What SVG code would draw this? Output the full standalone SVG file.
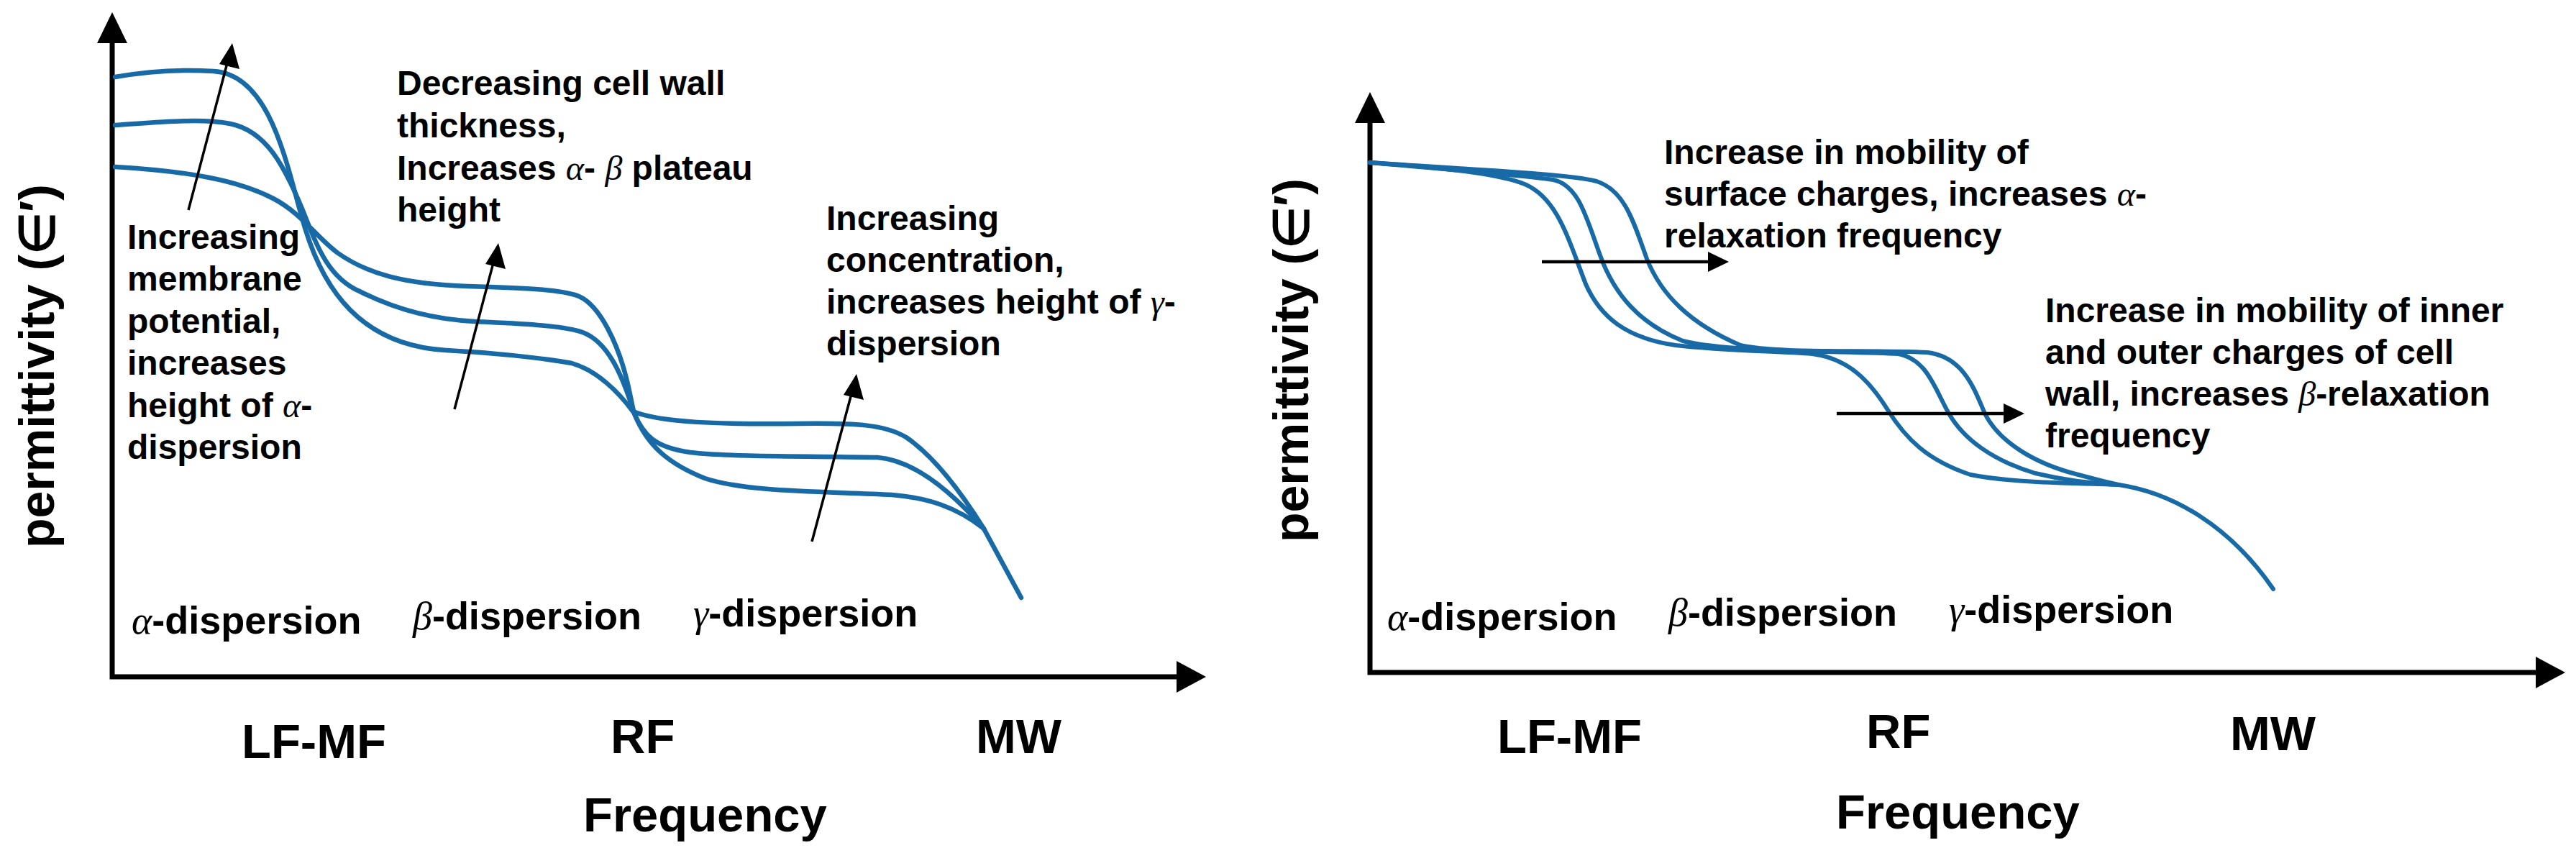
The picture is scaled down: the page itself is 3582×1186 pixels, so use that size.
<svg xmlns="http://www.w3.org/2000/svg" width="3582" height="1186" viewBox="0 0 3582 1186">
<defs>
<style>
.ax{stroke:#000;stroke-width:7;fill:none}
.ah{fill:#000}
.cv{stroke:#176aa6;stroke-width:6.5;fill:none;stroke-linecap:round;stroke-linejoin:round}
.cvr{stroke:#176aa6;stroke-width:6;fill:none;stroke-linecap:round;stroke-linejoin:round}
.ar{stroke:#000;stroke-width:3.5;fill:none}
.arh{stroke:#000;stroke-width:4.5;fill:none}
text{font-family:"Liberation Sans",Arial,sans-serif;font-weight:bold;fill:#000}
.an{font-size:48px}
.bl{font-size:54px}
.tk{font-size:67px}
.yl{font-size:68px}
.g{font-family:"Liberation Serif","Times New Roman",serif;font-style:italic;font-weight:normal}
</style>
</defs>
<rect width="3582" height="1186" fill="#fff"/>

<g id="left-axes">
<path class="ax" d="M156,50 L156,941 L1645,941"/>
<path class="ah" d="M156,17 L177,60 L135,60 z"/>
<path class="ah" d="M1677,941 L1636,919 L1636,963 z"/>
</g>

<g id="left-curves">
<path class="cv" d="M160,107 C200,100 250,96 297,99 C380,104 400,240 425,320 C450,400 500,480 620,487 C680,490 750,497 795,505 C830,515 860,545 880,572 C920,588 1000,590 1110,589 C1190,588 1230,590 1260,608 C1300,635 1340,690 1368,735 L1420,831"/>
<path class="cv" d="M160,174 C220,170 280,164 320,172 C370,182 395,230 420,290 C440,340 455,385 500,405 C545,428 600,444 660,447 C720,450 780,452 810,462 C845,475 865,520 882,575 C895,605 910,622 960,629 C1020,636 1150,634 1220,636 C1270,640 1320,680 1368,735"/>
<path class="cv" d="M160,232 C260,238 330,250 380,276 C420,297 440,330 470,352 C510,380 560,395 650,398 C720,400 780,402 805,412 C835,425 860,480 872,530 C878,555 880,570 882,575 C900,620 930,645 980,665 C1040,685 1150,683 1240,688 C1290,692 1330,705 1368,735"/>
</g>

<g id="left-arrows">
<line class="ar" x1="262" y1="292" x2="318" y2="80"/>
<path class="ah" d="M323,60 L333,96 L305,89 z"/>
<line class="ar" x1="632" y1="569" x2="688" y2="358"/>
<path class="ah" d="M693,338 L703,374 L675,367 z"/>
<line class="ar" x1="1129" y1="753" x2="1186" y2="540"/>
<path class="ah" d="M1191,520 L1201,556 L1173,549 z"/>
</g>

<g id="left-text">
<text class="an"><tspan x="177" y="346">Increasing</tspan><tspan x="177" y="404">membrane</tspan><tspan x="177" y="463">potential,</tspan><tspan x="177" y="521">increases</tspan><tspan x="177" y="580">height of <tspan class="g">α</tspan>-</tspan><tspan x="177" y="638">dispersion</tspan></text>
<text class="an"><tspan x="552" y="132">Decreasing cell wall</tspan><tspan x="552" y="191">thickness,</tspan><tspan x="552" y="250">Increases <tspan class="g">α</tspan>- <tspan class="g">β</tspan> plateau</tspan><tspan x="552" y="308">height</tspan></text>
<text class="an"><tspan x="1149" y="320">Increasing</tspan><tspan x="1149" y="378">concentration,</tspan><tspan x="1149" y="436">increases height of <tspan class="g">γ</tspan>-</tspan><tspan x="1149" y="494">dispersion</tspan></text>
<text class="bl" x="183" y="881"><tspan class="g">α</tspan>-dispersion</text>
<text class="bl" x="574" y="875"><tspan class="g">β</tspan>-dispersion</text>
<text class="bl" x="964" y="871"><tspan class="g">γ</tspan>-dispersion</text>
<text class="tk" x="336" y="1054">LF-MF</text>
<text class="tk" x="849" y="1047">RF</text>
<text class="tk" x="1357" y="1047">MW</text>
<text class="tk" x="811" y="1156">Frequency</text>
<text class="yl" transform="translate(75,762) rotate(-90)">permittivity (∈′)</text>
</g>

<g id="right-axes">
<path class="ax" d="M1905,160 L1905,935 L3535,935"/>
<path class="ah" d="M1905,128 L1926,171 L1884,171 z"/>
<path class="ah" d="M3567,935 L3526,913 L3526,957 z"/>
</g>

<g id="right-curves">
<path class="cvr" d="M1905,226 C1990,232 2080,240 2120,256 C2165,275 2180,330 2205,395 C2225,440 2260,470 2330,480 C2400,488 2470,488 2520,492 C2570,498 2600,530 2625,570 C2650,610 2680,640 2740,660 C2800,672 2900,672 2946,674 C3020,685 3100,730 3161,819"/>
<path class="cvr" d="M1905,226 C2000,234 2120,244 2160,250 C2195,258 2205,300 2225,355 C2245,410 2280,450 2340,474 C2400,490 2560,488 2640,492 C2680,500 2690,540 2710,575 C2730,610 2770,640 2830,658 C2880,670 2920,673 2946,674"/>
<path class="cvr" d="M1905,226 C2050,236 2180,242 2220,252 C2260,265 2272,310 2290,360 C2310,410 2350,450 2420,480 C2470,492 2600,486 2680,490 C2730,496 2745,540 2760,575 C2780,615 2830,645 2890,660 C2920,668 2935,672 2946,674"/>
</g>

<g id="right-arrows">
<line class="arh" x1="2144" y1="364" x2="2380" y2="364"/>
<path class="ah" d="M2404,364 L2375,350 L2375,378 z"/>
<line class="arh" x1="2554" y1="575" x2="2790" y2="575"/>
<path class="ah" d="M2815,575 L2786,561 L2786,589 z"/>
</g>

<g id="right-text">
<text class="an"><tspan x="2314" y="228">Increase in mobility of</tspan><tspan x="2314" y="286">surface charges, increases <tspan class="g">α</tspan>-</tspan><tspan x="2314" y="344">relaxation frequency</tspan></text>
<text class="an"><tspan x="2844" y="448">Increase in mobility of inner</tspan><tspan x="2844" y="506">and outer charges of cell</tspan><tspan x="2844" y="564">wall, increases <tspan class="g">β</tspan>-relaxation</tspan><tspan x="2844" y="622">frequency</tspan></text>
<text class="bl" x="1929" y="876"><tspan class="g">α</tspan>-dispersion</text>
<text class="bl" x="2320" y="870"><tspan class="g">β</tspan>-dispersion</text>
<text class="bl" x="2710" y="866"><tspan class="g">γ</tspan>-dispersion</text>
<text class="tk" x="2082" y="1047">LF-MF</text>
<text class="tk" x="2595" y="1040">RF</text>
<text class="tk" x="3101" y="1043">MW</text>
<text class="tk" x="2553" y="1152">Frequency</text>
<text class="yl" transform="translate(1819,754) rotate(-90)">permittivity (∈′)</text>
</g>
</svg>
